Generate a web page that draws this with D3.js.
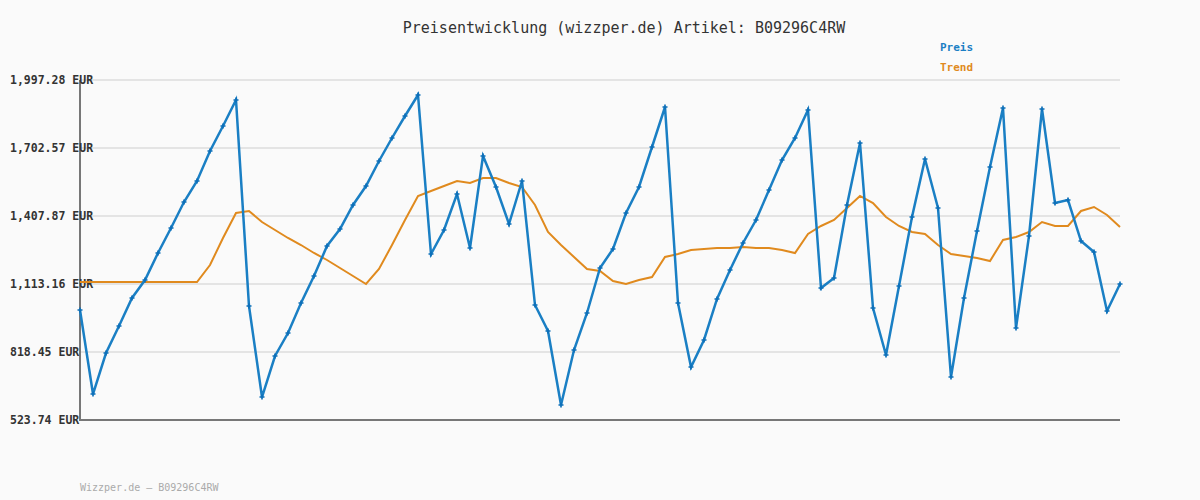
<!DOCTYPE html>
<html><head><meta charset="utf-8">
<script src="https://cdn.jsdelivr.net/npm/d3@7"></script>
<style>body{margin:0;background:#fafafa}svg{font-family:"DejaVu Sans Mono",monospace}</style>
</head><body><svg id="c" width="1200" height="500"></svg>
<script>
const preis = [1000.5,636.4,814.1,931.1,1052.5,1130.5,1247.5,1355.9,1468.6,1559.6,1689.6,1797.9,1910.6,
  1017.8,623.4,801.1,900.8,1030.8,1147.8,1277.9,1351.5,1455.5,1537.9,1646.2,1745.9,1841.3,1932.3,
  1243.2,1347.2,1503.2,1269.2,1667.9,1533.6,1373.2,1559.6,1022.1,909.5,588.8,827.1,987.5,1182.5,
  1264.9,1420.9,1533.6,1706.9,1880.3,1030.8,753.4,870.5,1048.2,1173.8,1290.9,1390.5,1520.6,1650.6,
  1745.9,1867.3,1095.8,1139.2,1455.5,1724.3,1009.2,805.4,1104.5,1403.5,1654.9,1442.6,710.1,1052.5,
  1342.9,1620.2,1875.9,922.5,1321.2,1871.6,1464.2,1477.2,1299.5,1251.9,996.1,1113.2]
const trend = [1121.8,1121.8,1121.8,1121.8,1121.8,1121.8,1121.8,1121.8,1121.8,1121.8,
  1195.5,1312.5,1420.9,1429.6,1381.9,1347.2,1312.5,1282.2,1247.5,1217.2,1182.5,1147.8,1113.2,
  1178.2,1282.2,1390.5,1494.6,1516.2,1537.9,1559.6,1550.9,1572.6,1572.6,1550.9,1533.6,1455.5,
  1338.5,1282.2,1230.2,1178.2,1169.5,1126.2,1113.2,1130.5,1143.5,1230.2,1243.2,1260.5,1264.9,
  1269.2,1269.2,1273.5,1269.2,1269.2,1260.5,1247.5,1329.9,1364.6,1390.5,1442.6,1494.6,1464.2,
  1403.5,1364.6,1338.5,1329.9,1282.2,1243.2,1234.5,1225.9,1212.8,1303.9,1316.9,1338.5,1381.9,
  1364.6,1364.6,1429.6,1446.9,1412.2,1360.2]
const ticks = [523.74,818.45,1113.16,1407.87,1702.57,1997.28]

const svg = d3.select("#c")
const x = d3.scaleLinear().domain([0, preis.length - 1]).range([80, 1120])
const y = d3.scaleLinear().domain([523.74, 1997.28]).range([420, 80])
const fmt = d3.format(",.2f")

svg.append("g").selectAll("line").data(ticks.slice(1)).join("line")
  .attr("x1", 80).attr("x2", 1120).attr("y1", d => y(d)).attr("y2", d => y(d))
  .attr("stroke", "#e4e4e4").attr("stroke-width", 2)
svg.append("path").attr("d", "M80,80V420H1120").attr("fill", "none").attr("stroke", "#777").attr("stroke-width", 2)
svg.append("g").selectAll("text").data(ticks).join("text")
  .attr("x", 10).attr("y", d => y(d) + 4)
  .attr("font-size", 11.5).attr("font-weight", "bold").attr("fill", "#333")
  .text(d => fmt(d) + " EUR")

const line = d3.line().x((d, i) => x(i)).y(d => y(d))
svg.append("path").datum(trend).attr("d", line).attr("fill", "none").attr("stroke", "#e08a1e").attr("stroke-width", 2)
svg.append("path").datum(preis).attr("d", line).attr("fill", "none").attr("stroke", "#1a7fc4").attr("stroke-width", 2.5)
svg.append("g").selectAll("path").data(preis).join("path")
  .attr("d", d3.symbol(d3.symbolCross, 14))
  .attr("transform", (d, i) => `translate(${x(i)},${y(d)})`).attr("fill", "#0d6fb8")

svg.append("text").attr("x", 624).attr("y", 33).attr("text-anchor", "middle").attr("font-size", 15).attr("fill", "#333")
  .text("Preisentwicklung (wizzper.de) Artikel: B09296C4RW")
svg.append("text").attr("x", 940).attr("y", 51).attr("font-size", 11).attr("font-weight", "bold").attr("fill", "#1a7fc4").text("Preis")
svg.append("text").attr("x", 940).attr("y", 71).attr("font-size", 11).attr("font-weight", "bold").attr("fill", "#e08a1e").text("Trend")
svg.append("text").attr("x", 80).attr("y", 491).attr("font-size", 10).attr("fill", "#aaa").text("Wizzper.de – B09296C4RW")
</script></body></html>
